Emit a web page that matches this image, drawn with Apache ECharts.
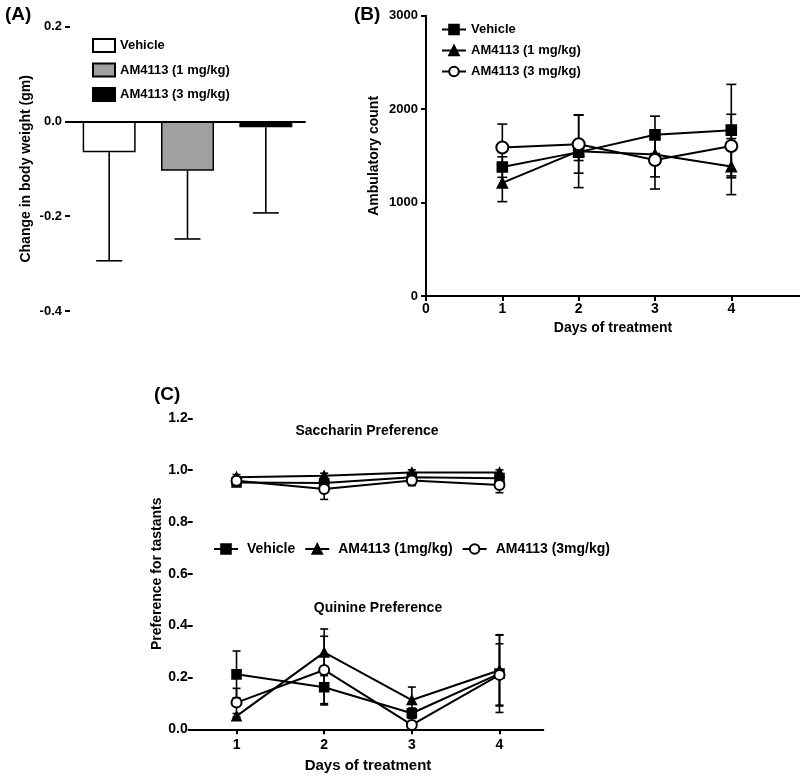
<!DOCTYPE html>
<html>
<head>
<meta charset="utf-8">
<script src="https://cdn.jsdelivr.net/npm/echarts@6/dist/echarts.min.js"></script>
<style>
  html, body { margin: 0; padding: 0; background: #fff; }
  #main { width: 800px; height: 776px; }
</style>
</head>
<body>
<div id="main"></div>
<script>
// panel A - body weight change
var groupsA = ['Vehicle', 'AM4113 (1 mg/kg)', 'AM4113 (3 mg/kg)'];
var meanA = [-0.065, -0.104, -0.012];
var semA = [0.229, 0.144, 0.181];
var colorsA = ['#ffffff', '#a0a0a0', '#000000'];

// panel B - ambulatory count
var daysB = [1, 2, 3, 4];
var vehicleB = [1380, 1540, 1725, 1775];
var vehicleBsem = [110, 90, 200, 490];
var am1B = [1210, 1550, 1515, 1385];
var am1Bsem = [200, 390, 240, 300];
var am3B = [1590, 1625, 1455, 1605];
var am3Bsem = [250, 310, 310, 340];

// panel C - taste preference
var daysC = ['1', '2', '3', '4'];
var groupsC = ['Vehicle', 'AM4113 (1mg/kg)', 'AM4113 (3mg/kg)'];
var vehSac = [0.952, 0.950, 0.973, 0.969];
var vehSacSem = [0.01, 0.01, 0.01, 0.01];
var am1Sac = [0.973, 0.978, 0.991, 0.991];
var am1SacSem = [0.01, 0.01, 0.01, 0.01];
var am3Sac = [0.959, 0.927, 0.960, 0.943];
var am3SacSem = [0.015, 0.04, 0.02, 0.03];
var vehQ = [0.212, 0.162, 0.062, 0.215];
var vehQSem = [0.09, 0.068, 0.02, 0.15];
var am1Q = [0.051, 0.297, 0.113, 0.228];
var am1QSem = [0.01, 0.09, 0.05, 0.135];
var am3Q = [0.103, 0.229, 0.017, 0.21];
var am3QSem = [0.055, 0.13, 0.01, 0.12];

var FONT = 'Liberation Sans, Arial, sans-serif';
var chart = echarts.init(document.getElementById('main'));

// error bar drawer; oneSided = cap only on the far end
function errBars(capW, oneSided) {
  return function (params, api) {
    var x = api.value(0);
    var a = api.coord([x, api.value(1)]);
    var b = api.coord([x, api.value(2)]);
    var st = { stroke: '#000', lineWidth: 1.6 };
    var kids = [
      { type: 'line', shape: { x1: a[0], y1: a[1], x2: b[0], y2: b[1] }, style: st },
      { type: 'line', shape: { x1: b[0] - capW, y1: b[1], x2: b[0] + capW, y2: b[1] }, style: st }
    ];
    if (!oneSided) {
      kids.push({ type: 'line', shape: { x1: a[0] - capW, y1: a[1], x2: a[0] + capW, y2: a[1] }, style: st });
    }
    return { type: 'group', children: kids };
  };
}
function errData(xs, m, e) {
  return m.map(function (v, i) { return [xs[i], v - e[i], v + e[i]]; });
}

var axisStyle = { lineStyle: { color: '#000', width: 2 } };
var tickStyle = { show: true, length: 5, lineStyle: { color: '#000', width: 2 } };
var labelStyle = { color: '#000', fontWeight: 'bold', fontSize: 13, fontFamily: FONT };
var nameStyle = { color: '#000', fontWeight: 'bold', fontSize: 14, fontFamily: FONT };
var titleStyle = { color: '#000', fontSize: 19, fontWeight: 'bold', fontFamily: FONT };
var subStyle = { color: '#000', fontSize: 14, fontWeight: 'bold', fontFamily: FONT };

var series = [];

// A bars
groupsA.forEach(function (g, i) {
  var d = groupsA.map(function (x, j) { return j === i ? meanA[i] : '-'; });
  series.push({
    name: 'A:' + g, type: 'bar', xAxisIndex: 0, yAxisIndex: 0,
    data: d, barWidth: 53, barGap: '-100%',
    itemStyle: { color: colorsA[i], borderColor: '#000', borderWidth: 1.5 }
  });
});
series.push({
  type: 'custom', xAxisIndex: 0, yAxisIndex: 0, z: 3,
  renderItem: errBars(13, true),
  data: meanA.map(function (v, i) { return [i, v, v - semA[i]]; })
});

// B lines
var bSets = [
  { name: 'B:Vehicle', m: vehicleB, e: vehicleBsem, sym: 'rect', size: 10 },
  { name: 'B:AM4113 (1 mg/kg)', m: am1B, e: am1Bsem, sym: 'triangle', size: 10 },
  { name: 'B:AM4113 (3 mg/kg)', m: am3B, e: am3Bsem, sym: 'emptyCircle', size: 12 }
];
bSets.forEach(function (s) {
  series.push({
    type: 'custom', xAxisIndex: 1, yAxisIndex: 1, z: 1,
    renderItem: errBars(5, false), data: errData(daysB, s.m, s.e)
  });
});
bSets.forEach(function (s) {
  series.push({
    name: s.name, type: 'line', xAxisIndex: 1, yAxisIndex: 1, z: 3,
    data: s.m.map(function (v, i) { return [daysB[i], v]; }),
    symbol: s.sym, symbolSize: s.size, showAllSymbol: true,
    lineStyle: { color: '#000', width: 2 },
    itemStyle: { color: '#000', borderColor: '#000', borderWidth: 1.6 }
  });
});

// C lines
var cSets = [
  { name: 'C:' + groupsC[0], sac: vehSac, sacE: vehSacSem, q: vehQ, qE: vehQSem, sym: 'rect', size: 9 },
  { name: 'C:' + groupsC[1], sac: am1Sac, sacE: am1SacSem, q: am1Q, qE: am1QSem, sym: 'triangle', size: 9 },
  { name: 'C:' + groupsC[2], sac: am3Sac, sacE: am3SacSem, q: am3Q, qE: am3QSem, sym: 'emptyCircle', size: 10 }
];
var idxC = daysC.map(function (d, i) { return i; });
cSets.forEach(function (s) {
  series.push({
    type: 'custom', xAxisIndex: 2, yAxisIndex: 2, z: 1,
    renderItem: errBars(4, false), data: errData(idxC, s.sac, s.sacE)
  });
  series.push({
    type: 'custom', xAxisIndex: 2, yAxisIndex: 2, z: 1,
    renderItem: errBars(4, false), data: errData(idxC, s.q, s.qE)
  });
});
cSets.forEach(function (s) {
  [s.sac, s.q].forEach(function (arr) {
    series.push({
      name: s.name, type: 'line', xAxisIndex: 2, yAxisIndex: 2, z: 3,
      data: arr, symbol: s.sym, symbolSize: s.size,
      lineStyle: { color: '#000', width: 2 },
      itemStyle: { color: '#000', borderColor: '#000', borderWidth: 1.6 }
    });
  });
});

function stripName(n) { return n.slice(2); }
var legendText = { color: '#000', fontWeight: 'bold', fontSize: 13, fontFamily: FONT };

var option = {
  backgroundColor: '#fff',
  animation: false,
  title: [
    { text: '(A)', left: 0, top: 0, textStyle: titleStyle },
    { text: '(B)', left: 349, top: 0, textStyle: titleStyle },
    { text: '(C)', left: 149, top: 380, textStyle: titleStyle },
    { text: 'Saccharin Preference', left: 362, top: 419, textAlign: 'center', textStyle: subStyle },
    { text: 'Quinine Preference', left: 373, top: 596, textAlign: 'center', textStyle: subStyle }
  ],
  legend: [
    {
      data: groupsA.map(function (g) { return 'A:' + g; }), formatter: stripName,
      orient: 'vertical', left: 87, top: 33, itemWidth: 22, itemHeight: 13, itemGap: 9.5,
      icon: 'rect', selectedMode: false, textStyle: legendText
    },
    {
      data: bSets.map(function (s) { return s.name; }), formatter: stripName,
      orient: 'vertical', left: 436, top: 18, itemWidth: 24, itemHeight: 12, itemGap: 8,
      selectedMode: false, textStyle: legendText
    },
    {
      data: cSets.map(function (s) { return s.name; }), formatter: stripName,
      orient: 'horizontal', left: 208, top: 537, itemWidth: 24, itemHeight: 12, itemGap: 9,
      selectedMode: false, textStyle: { color: '#000', fontWeight: 'bold', fontSize: 14, fontFamily: FONT, padding: [0, 0, 0, 4] }
    }
  ],
  grid: [
    { left: 70, top: 26.7, width: 235, height: 284.3 },
    { left: 426, top: 15.7, width: 375, height: 280.3 },
    { left: 192.7, top: 418.3, width: 350.6, height: 311 }
  ],
  xAxis: [
    {
      gridIndex: 0, type: 'category', data: groupsA,
      axisLine: { onZero: true, lineStyle: { color: '#000', width: 2 } },
      axisTick: { show: false }, axisLabel: { show: false }, splitLine: { show: false }
    },
    {
      gridIndex: 1, type: 'value', min: 0, max: 4.9, interval: 1,
      name: 'Days of treatment', nameLocation: 'middle', nameGap: 25, nameTextStyle: nameStyle,
      axisLine: axisStyle, axisTick: tickStyle, splitLine: { show: false },
      axisLabel: Object.assign({ showMaxLabel: false, margin: 6 }, labelStyle, { fontSize: 14 })
    },
    {
      gridIndex: 2, type: 'category', data: daysC, boundaryGap: true,
      name: 'Days of treatment', nameLocation: 'middle', nameGap: 29, nameTextStyle: Object.assign({}, nameStyle, { fontSize: 15 }),
      axisLine: axisStyle, axisTick: Object.assign({ alignWithLabel: true }, tickStyle),
      axisLabel: Object.assign({ margin: 9 }, labelStyle, { fontSize: 14 }), splitLine: { show: false }
    }
  ],
  yAxis: [
    {
      gridIndex: 0, type: 'value', min: -0.4, max: 0.2, interval: 0.2,
      name: 'Change in body weight (gm)', nameLocation: 'middle', nameGap: 37, nameTextStyle: nameStyle,
      axisLine: axisStyle, axisTick: tickStyle, splitLine: { show: false },
      axisLabel: Object.assign({ formatter: function (v) { return v.toFixed(1); } }, labelStyle)
    },
    {
      gridIndex: 1, type: 'value', min: 0, max: 3000, interval: 1000,
      name: 'Ambulatory count', nameLocation: 'middle', nameGap: 45, nameTextStyle: nameStyle,
      axisLine: axisStyle, axisTick: tickStyle, splitLine: { show: false },
      axisLabel: Object.assign({ formatter: function (v) { return String(v); } }, labelStyle)
    },
    {
      gridIndex: 2, type: 'value', min: 0, max: 1.2, interval: 0.2,
      name: 'Preference for tastants', nameLocation: 'middle', nameGap: 26, nameTextStyle: nameStyle,
      axisLine: axisStyle, axisTick: tickStyle, splitLine: { show: false },
      axisLabel: Object.assign({ formatter: function (v) { return v.toFixed(1); }, margin: 5 }, labelStyle, { fontSize: 14 })
    }
  ],
  series: series
};

chart.setOption(option);
</script>
</body>
</html>
